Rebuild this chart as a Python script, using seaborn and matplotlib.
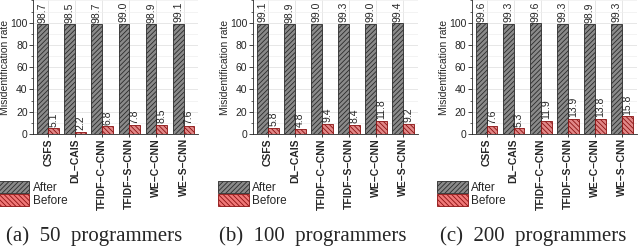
import numpy as np
import pandas as pd
import matplotlib
matplotlib.use("Agg")
import matplotlib.pyplot as plt
from matplotlib.patches import Patch
from matplotlib.ticker import MultipleLocator
import seaborn as sns

# Datos
methods = ["CSFS", "DL\u2212CAIS", "TFIDF\u2212C\u2212CNN", "TFIDF\u2212S\u2212CNN",
           "WE\u2212C\u2212CNN", "WE\u2212S\u2212CNN"]
after_50 = [98.7, 98.5, 98.7, 99.0, 98.9, 99.1]
before_50 = [5.1, 2.2, 6.8, 7.8, 8.5, 7.6]
after_100 = [99.1, 98.9, 99.0, 99.3, 99.0, 99.4]
before_100 = [5.8, 4.8, 9.4, 8.4, 11.8, 9.2]
after_200 = [99.6, 99.3, 99.6, 99.3, 98.9, 99.3]
before_200 = [7.6, 5.3, 11.9, 13.9, 13.8, 15.8]
captions = ["(a)  50  programmers", "(b)  100  programmers", "(c)  200  programmers"]

COLOR_AFTER = "#8a8a8a"
COLOR_BEFORE = "#f07878"
EDGE_AFTER = "#2b2b2b"
EDGE_BEFORE = "#8a1010"

sns.set_style("ticks")
plt.rcParams["font.family"] = ["Liberation Sans", "DejaVu Sans"]
plt.rcParams["hatch.linewidth"] = 0.6

fig = plt.figure(figsize=(6.4, 2.49), dpi=100)
lefts = [0.052, 0.395, 0.737]
width = 0.258
bottom, height = 0.462, 0.536
caption_x = [0.147, 0.489, 0.833]

panels = [(after_50, before_50), (after_100, before_100), (after_200, before_200)]

for i, (after, before) in enumerate(panels):
    ax = fig.add_axes([lefts[i], bottom, width, height])
    df = pd.DataFrame({
        "method": methods * 2,
        "rate": after + before,
        "phase": ["After"] * len(methods) + ["Before"] * len(methods),
    })
    sns.barplot(data=df, x="method", y="rate", hue="phase", ax=ax,
                palette={"After": COLOR_AFTER, "Before": COLOR_BEFORE},
                width=0.8, linewidth=0.6, legend=False)

    # hatch y bordes por serie
    for cont, hatch, edge in zip(ax.containers, ["///////", "\\\\\\\\\\\\\\"],
                                 [EDGE_AFTER, EDGE_BEFORE]):
        for bar in cont:
            bar.set_hatch(hatch)
            bar.set_edgecolor(edge)
        ax.bar_label(cont, fmt="%.1f", rotation=90, padding=1, fontsize=7.5)

    ax.set_ylim(0, 120)
    ax.set_xlim(-0.55, len(methods) - 0.45)
    ax.yaxis.set_minor_locator(MultipleLocator(10))
    ax.set_yticks([0, 20, 40, 60, 80, 100])
    ax.grid(True, which="major", color="#dddddd", linewidth=0.5)
    ax.grid(True, which="minor", axis="y", color="#eeeeee", linewidth=0.5)
    ax.set_axisbelow(True)
    ax.tick_params(axis="y", labelsize=7.5, length=3, width=0.6, pad=1)
    ax.tick_params(axis="y", which="minor", length=1.5, width=0.5)
    ax.tick_params(axis="x", length=2, width=0.6, pad=1)
    ax.set_xticks(range(len(methods)))
    ax.set_xticklabels(methods, rotation=90, fontsize=7.5, fontweight="bold")
    ax.set_xlabel("")
    ax.set_ylabel("Misidentification rate", fontsize=7.5)
    ax.yaxis.set_label_coords(-0.14, 0.5)
    for side in ["top", "right"]:
        ax.spines[side].set_visible(False)
    for side in ["left", "bottom"]:
        ax.spines[side].set_linewidth(0.6)

    handles = [
        Patch(facecolor=COLOR_AFTER, edgecolor=EDGE_AFTER, hatch="///////", linewidth=0.6),
        Patch(facecolor=COLOR_BEFORE, edgecolor=EDGE_BEFORE, hatch="\\\\\\\\\\\\\\", linewidth=0.6),
    ]
    ax.legend(handles, ["After", "Before"], loc="upper left",
              bbox_to_anchor=(-0.21, -0.35), frameon=False, fontsize=8.5,
              handlelength=2.6, handleheight=1.2, labelspacing=0.05,
              handletextpad=0.3, borderaxespad=0, borderpad=0)

    fig.text(caption_x[i], 0.052, captions[i], ha="center", va="center",
             fontsize=15, family=["Liberation Serif", "DejaVu Serif"])

fig.savefig("out.png", dpi=100)
